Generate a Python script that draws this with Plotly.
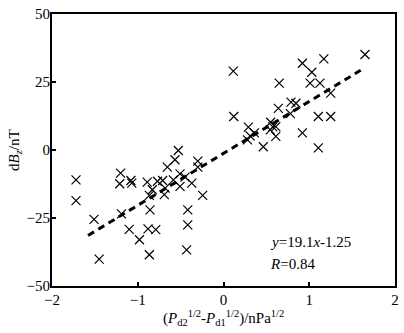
import plotly.graph_objects as go

# scatter data: x = (Pd2^1/2 - Pd1^1/2) [nPa^1/2], y = dBz [nT]
x_vals = [-1.72, -1.72, -1.51, -1.45, -1.20, -1.21, -1.08, -1.07, -1.19, -1.10,
          -0.98, -0.88, -0.79, -0.865, -0.89, -0.865, -0.857, -0.77, -0.83, -0.69,
          -0.68, -0.71, -0.655, -0.527, -0.566, -0.585, -0.507, -0.449, -0.507, -0.37,
          -0.243, -0.417, -0.417, -0.43, -0.30, -0.30,
          0.114, 0.12, 0.29, 0.36, 0.31, 0.28, 0.464, 0.55, 0.575, 0.545,
          0.61, 0.61, 0.64, 0.65, 0.787, 0.845, 0.78, 0.92, 0.92, 1.03,
          1.01, 1.125, 1.17, 1.25, 1.106, 1.25, 1.106, 1.65]
y_vals = [-11.0, -18.6, -25.5, -40.1, -8.5, -12.4, -11.2, -12.2, -23.5, -29.2,
          -33.0, -29.0, -29.3, -38.5, -11.8, -16.7, -22.0, -11.5, -14.6, -16.4,
          -14.0, -11.2, -6.3, -0.2, -3.6, -11.0, -8.8, -10.0, -13.4, -12.2,
          -16.7, -22.0, -27.5, -36.7, -4.1, -6.3,
          29.0, 12.3, 8.4, 6.3, 5.2, 3.7, 1.2, 10.2, 8.5, 7.4,
          8.6, 5.0, 15.3, 24.6, 17.6, 17.2, 13.4, 6.3, 31.9, 28.6,
          24.6, 24.6, 33.5, 20.9, 12.3, 12.3, 0.8, 35.1]

# linear fit y = slope*x + intercept
slope = 19.1
intercept = -1.25
fit_x = [-1.58, 1.60]
fit_y = [slope * v + intercept for v in fit_x]

x_ticks = [-2, -1, 0, 1, 2]
y_ticks = [-50, -25, 0, 25, 50]

FONT = "Liberation Serif"
tfont = dict(family=FONT, size=15, color="black")

fig = go.Figure()
fig.add_trace(go.Scatter(
    x=fit_x, y=fit_y, mode="lines",
    line=dict(color="black", width=3, dash="7px,5px"),
    showlegend=False, hoverinfo="skip"))
fig.add_trace(go.Scatter(
    x=x_vals, y=y_vals, mode="markers",
    marker=dict(symbol="x-thin", size=9, line=dict(color="black", width=1.2), color="black"),
    showlegend=False))

fig.add_annotation(x=0.52, y=-34, xref="x", yref="y", text="<i>y</i>=19.1<i>x</i>-1.25",
                   showarrow=False, xanchor="left", yanchor="middle", font=tfont)
fig.add_annotation(x=0.52, y=-41.8, xref="x", yref="y", text="<i>R</i>=0.84",
                   showarrow=False, xanchor="left", yanchor="middle", font=tfont)
# axis titles
fig.add_annotation(x=0.5, y=-0.118, xref="paper", yref="paper",
                   text="(<i>P</i><sub>d2</sub><sup>1/2</sup>-<i>P</i><sub>d1</sub><sup>1/2</sup>)/nPa<sup>1/2</sup>",
                   showarrow=False, xanchor="center", yanchor="middle", font=tfont)
fig.add_annotation(x=-0.108, y=0.5, xref="paper", yref="paper",
                   text="d<i>B</i><sub><i>z</i></sub>/nT", textangle=-90,
                   showarrow=False, xanchor="center", yanchor="middle", font=tfont)

axis_common = dict(ticks="inside", ticklen=4, tickwidth=1.5, tickcolor="black",
                   showgrid=False, zeroline=False, showline=True, linecolor="black",
                   linewidth=2, mirror=True, automargin=False, tickfont=tfont)

fig.update_layout(
    width=404, height=333,
    margin=dict(l=52, r=9, t=14, b=47),
    paper_bgcolor="white", plot_bgcolor="white",
    font=tfont,
    xaxis=dict(range=[-2, 2], tickvals=x_ticks, ticklabelstandoff=-1, **axis_common),
    yaxis=dict(range=[-50, 50], tickvals=y_ticks, ticklabelstandoff=-3, **axis_common),
)

fig.write_html("out.html", config={"displayModeBar": False},
               post_script="document.body.style.margin='0';document.body.style.padding='0';")
